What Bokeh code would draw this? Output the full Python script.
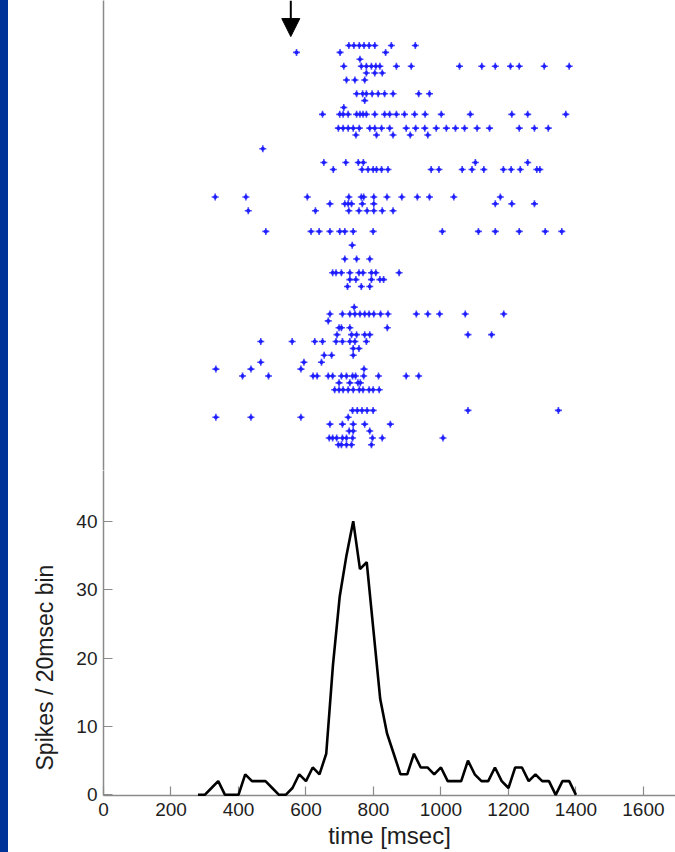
from bokeh.plotting import figure
from bokeh.models import Range1d, FixedTicker, Arrow, NormalHead, Div, Title
from bokeh.layouts import row, column
from bokeh.embed import file_html
from bokeh.resources import INLINE

# ---------------- data ----------------
bin_times = list(range(280, 1401, 20))
bin_counts = [0, 0, 1, 2, 0, 0, 0, 3, 2, 2, 2, 1, 0, 0, 1, 3, 2, 4, 3, 6,
              19, 29, 35, 40, 33, 34, 24, 14, 9, 6, 3, 3, 6, 4, 4, 3, 4, 2, 2, 2,
              5, 3, 2, 2, 4, 2, 1, 4, 4, 2, 3, 2, 2, 0, 2, 2, 0]

x_ticks = [0, 200, 400, 600, 800, 1000, 1200, 1400, 1600]
y_ticks = [0, 10, 20, 30, 40]
x_label = "time [msec]"
y_label = "Spikes / 20msec bin"
arrow_time = 555
arrow_tip_trial = 0.7

spikes_by_trial = [
    [727, 742, 758, 772, 787, 804, 853, 924],
    [572, 701, 836],
    [760],
    [712, 764, 779, 794, 807, 819, 868, 912, 1055, 1121, 1161, 1206, 1232, 1306, 1380],
    [779, 804, 826],
    [720, 745, 774],
    [],
    [750, 768, 779, 796, 814, 833, 858, 934, 966],
    [774],
    [712],
    [649, 700, 710, 725, 750, 760, 769, 779, 804, 833, 848, 868, 892, 922, 953, 1001, 1087, 1210, 1257, 1370],
    [],
    [696, 710, 725, 740, 758, 789, 804, 824, 848, 897, 925, 952, 986, 1016, 1043, 1070, 1107, 1144, 1232, 1277, 1318],
    [748, 809, 858, 909, 961],
    [],
    [472],
    [],
    [653, 718, 755, 770, 1102, 1257],
    [681, 766, 784, 799, 809, 824, 843, 971, 994, 1063, 1092, 1127, 1185, 1208, 1235, 1284, 1293],
    [], [], [],
    [331, 422, 604, 727, 764, 771, 801, 840, 884, 930, 966, 1038, 1176],
    [671, 715, 725, 735, 767, 801, 1161, 1210, 1277],
    [429, 628, 727, 757, 781, 801, 826, 858],
    [], [],
    [481, 615, 639, 671, 700, 715, 740, 799, 1004, 1111, 1161, 1232, 1309, 1358],
    [],
    [737],
    [],
    [715, 750, 789],
    [],
    [679, 689, 705, 730, 757, 769, 794, 807, 876],
    [730, 748, 794, 819, 830],
    [723, 764, 789],
    [], [],
    [743],
    [671, 708, 730, 745, 760, 774, 787, 801, 821, 843, 927, 961, 996, 1072, 1186],
    [666],
    [698, 705, 730, 841],
    [692, 735, 750, 774, 789, 1080, 1150],
    [466, 559, 626, 649, 689, 708, 730, 745, 779],
    [740, 757],
    [654, 676, 740],
    [466, 594, 646],
    [333, 437, 585, 772],
    [412, 489, 621, 633, 666, 679, 705, 720, 738, 747, 771, 815, 897, 934],
    [698, 730, 754, 761],
    [685, 698, 710, 725, 740, 758, 769, 787, 799, 817],
    [], [],
    [738, 752, 766, 781, 799, 1080, 1348],
    [333, 437, 585, 725],
    [671, 708, 740, 774, 850],
    [728, 740, 789],
    [669, 679, 691, 708, 720, 738, 797, 826, 1006],
    [696, 705, 720, 735, 794],
]

# ---------------- styling ----------------
FONT = "Liberation Sans"
AXIS_GREY = "#8a8a8a"
TEXT_COL = "#1e1e1e"
DOT_COL = "#1c1cff"

spike_x, spike_y = [], []
for i, times in enumerate(spikes_by_trial):
    for t in times:
        spike_x.append(t)
        spike_y.append(i + 1)

xr = Range1d(0, 1695)
raster_top, raster_bottom = -5.54, 62.73

raster = figure(width=667, height=470, x_range=xr,
                y_range=Range1d(raster_bottom, raster_top),
                output_backend="svg", toolbar_location=None,
                x_axis_location=None,
                min_border_left=95, min_border_right=0,
                min_border_top=0, min_border_bottom=0)
raster.outline_line_color = None
raster.grid.visible = False
raster.yaxis.ticker = FixedTicker(ticks=[])
raster.yaxis.major_label_text_font_size = "0px"
raster.yaxis.major_tick_line_color = None
raster.yaxis.minor_tick_line_color = None
raster.yaxis.axis_line_color = AXIS_GREY
raster.yaxis.axis_line_width = 1.5

raster.scatter(spike_x, spike_y, marker="circle", size=4,
               fill_color=DOT_COL, line_color=None, fill_alpha=0.95)
raster.scatter(spike_x, spike_y, marker="cross", size=7, line_width=1.6,
               line_color=DOT_COL, line_alpha=0.8)

raster.add_layout(Arrow(end=NormalHead(size=18, fill_color="black",
                                       line_color="black", line_width=1),
                        x_start=arrow_time, y_start=raster_top,
                        x_end=arrow_time, y_end=arrow_tip_trial - 1.0,
                        line_width=2, line_color="black"))

y_lo, y_hi = -0.1, 47.41
hist = figure(width=667, height=382, x_range=xr,
              y_range=Range1d(y_lo, y_hi),
              output_backend="svg", toolbar_location=None,
              min_border_left=95, min_border_right=0,
              min_border_top=0, min_border_bottom=57)
hist.outline_line_color = None
hist.grid.visible = False
hist.line(bin_times, bin_counts, line_color="black", line_width=2.6,
          level="overlay")

for ax in (hist.xaxis[0], hist.yaxis[0]):
    ax.axis_line_color = AXIS_GREY
    ax.axis_line_width = 1.5
    ax.major_tick_line_color = AXIS_GREY
    ax.major_tick_line_width = 1.2
    ax.major_tick_in = 9
    ax.major_tick_out = 0
    ax.minor_tick_line_color = None
    ax.major_label_text_font = FONT
    ax.major_label_text_font_size = "19px"
    ax.major_label_text_color = TEXT_COL
    ax.axis_label_text_font = FONT
    ax.axis_label_text_font_size = "24px"
    ax.axis_label_text_font_style = "normal"
    ax.axis_label_text_color = TEXT_COL

hist.xaxis.ticker = FixedTicker(ticks=x_ticks)
hist.yaxis.ticker = FixedTicker(ticks=y_ticks)
hist.xaxis.axis_label = x_label
hist.xaxis.major_label_standoff = 7
hist.yaxis.major_label_standoff = 6
hist.xaxis.axis_label_standoff = 3

# y-axis title as a side title, starting a little above the frame bottom
hist.add_layout(Title(text=y_label, align="left", offset=25, standoff=32,
                      text_font=FONT, text_font_size="23px",
                      text_font_style="normal", text_color=TEXT_COL),
                "left")

bar = Div(text="", width=8, height=852, margin=0,
          styles={"background-color": "#003399"})

layout = row(bar, column(raster, hist, spacing=0), spacing=0)

open("out.html", "w").write(file_html(layout, INLINE))
